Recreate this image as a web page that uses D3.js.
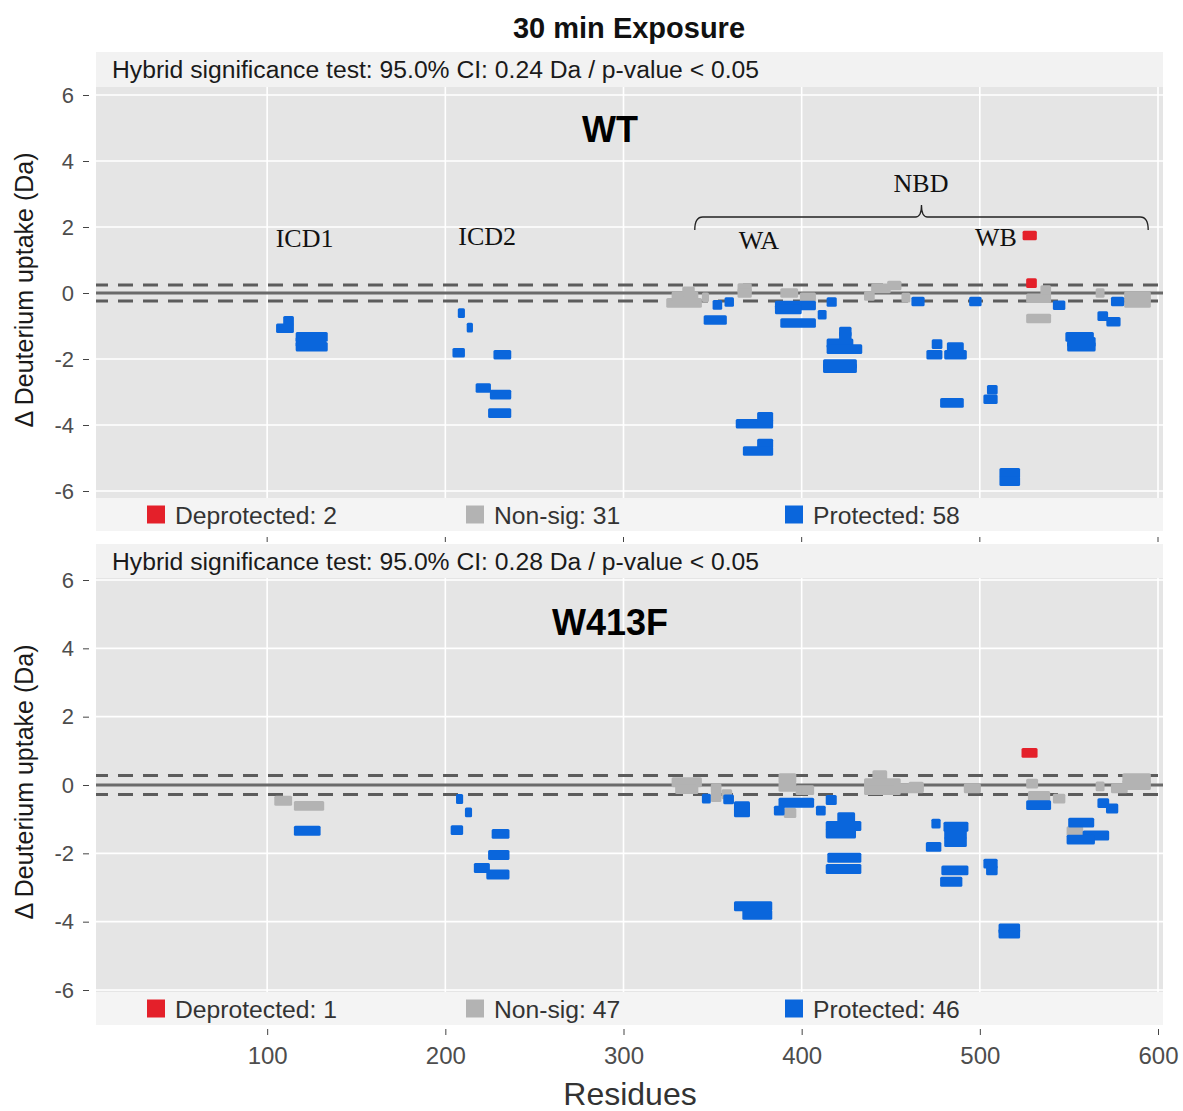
<!DOCTYPE html>
<html>
<head>
<meta charset="utf-8">
<script src="https://d3js.org/d3.v7.min.js"></script>
<style>
  body { margin: 0; background: #fff; }
  text { font-family: "Liberation Sans", Arial, sans-serif; }
</style>
</head>
<body>
<script>
// residue ticks and uptake ticks
const xTicks = [100, 200, 300, 400, 500, 600];
const yTicks = [-6, -4, -2, 0, 2, 4, 6];

// peptides as [start residue, end residue, delta uptake (Da)]
const wtDeprotected = [[524, 532, 1.74], [526, 532, 0.3]];
const wtNonsig = [
  [324, 344, -0.3], [327, 342, -0.1], [333, 340, 0.05], [344, 348, -0.13],
  [364, 372, 0.15], [364, 372, 0.0], [388, 398, 0.0], [399, 408, -0.13],
  [435, 441, -0.09], [439, 450, 0.14], [448, 456, 0.23], [456, 461, -0.14],
  [526, 540, -0.16], [534, 540, 0.09], [526, 540, -0.77],
  [565, 570, 0.0], [581, 596, -0.1], [581, 596, -0.3]
];
const wtProtected = [
  [109, 115, -0.84], [105, 115, -1.07], [116, 134, -1.33], [116, 133, -1.48], [116, 134, -1.63],
  [207, 211, -0.61], [212, 215.5, -1.05], [204, 211, -1.81], [227, 237, -1.87],
  [217, 225.6, -2.88], [225, 237, -3.08], [224, 237, -3.64],
  [350, 355.4, -0.36], [356.7, 362, -0.27], [345, 358, -0.82],
  [385, 408, -0.38], [385, 400, -0.5], [409, 414, -0.66], [414, 419.7, -0.27], [388, 408, -0.91],
  [421, 428, -1.17], [421, 428, -1.31], [414, 429, -1.52], [414, 434, -1.7],
  [412, 431, -2.15], [412, 431, -2.28],
  [363, 384, -3.96], [375, 384, -3.75], [375, 384, -4.56], [367, 384, -4.79],
  [461.6, 469, -0.26], [473, 479, -1.55], [470, 479, -1.87], [481.5, 491, -1.64],
  [480, 492.7, -1.87], [477.7, 491, -3.33],
  [494, 501, -0.26], [504, 510, -2.93], [502, 510, -3.22], [511, 522.6, -5.45], [511, 522.6, -5.7],
  [541, 548, -0.37], [548, 564, -1.33], [549, 565, -1.48], [549, 565, -1.63],
  [566, 572, -0.7], [571, 579, -0.87], [573.6, 581, -0.26]
];

const mutDeprotected = [[523.4, 532.4, 0.94]];
const mutNonsig = [
  [104, 114, -0.46], [115, 132, -0.61],
  [327, 344, 0.08], [329, 342, -0.12], [349, 355, -0.1], [349, 355, -0.35], [355, 361, -0.27],
  [387, 397, 0.2], [387, 397, -0.05], [396.6, 407, -0.15], [390, 397, -0.82],
  [439.7, 448, 0.29], [435, 455.6, 0.05], [435, 455.6, -0.15], [451.7, 468.5, -0.1], [460, 468.5, -0.05],
  [491, 500.6, -0.1],
  [526, 532.7, 0.04], [527, 539.5, -0.32], [541, 548, -0.4], [548.7, 558, -1.35],
  [565, 570, -0.04], [580, 596, 0.2], [580, 596, 0.0], [573.6, 583, -0.1]
];
const mutProtected = [
  [115, 130, -1.34],
  [206, 210, -0.41], [211, 215, -0.8], [203, 210, -1.32], [226, 236, -1.43],
  [224, 236, -2.05], [216, 225, -2.43], [223, 236, -2.62],
  [344, 349, -0.4], [356, 362, -0.42], [362, 371, -0.62], [362, 371, -0.8],
  [387, 407, -0.52], [384.4, 390.4, -0.75], [408, 413.5, -0.75], [413.5, 419.7, -0.44],
  [420, 430, -0.94], [413.5, 433.5, -1.2], [413.5, 430.5, -1.42], [414.4, 433.5, -2.13], [413.5, 433.5, -2.46],
  [362, 383.5, -3.55], [366.7, 383.5, -3.8],
  [472.8, 478, -1.13], [479.6, 493.6, -1.22], [480, 492.7, -1.43], [480, 492.7, -1.67],
  [469.7, 478.4, -1.81], [478.4, 493.6, -2.5], [477.7, 490.2, -2.83],
  [502, 510, -2.3], [503.5, 510, -2.5], [510.5, 522.6, -4.2], [510.5, 522.6, -4.35],
  [526, 540, -0.59], [566, 572.6, -0.53], [570.8, 577.7, -0.69],
  [549.6, 564.2, -1.1], [557.7, 572.6, -1.48], [548.7, 564.6, -1.6]
];

// legend counts and confidence limits per panel
const wtCounts = [2, 31, 58];
const mutCounts = [1, 47, 46];
const wtCI = 0.24;
const mutCI = 0.28;

// domain annotations on the WT panel
const annoLabels = ["ICD1", "ICD2", "NBD", "WA", "WB"];
const annoResidue = [121, 223.5, 467, 376, 509];
const annoValue = [1.4, 1.45, 3.06, 1.33, 1.42];
const braceRange = [340, 594.5];

const colors = { dep: "#e4202a", non: "#b3b3b3", pro: "#0a66dc" };
const peptideHeight = 0.29;

let svg = null;
let xScale = null;

window.onload = function() {
  svg = d3.select("body").append("svg")
    .attr("width", 1183)
    .attr("height", 1111);

  xScale = d3.scaleLinear().domain([0, 600]).range([89, 1158]);

  svg.append("text")
    .attr("x", 629)
    .attr("y", 38)
    .attr("text-anchor", "middle")
    .style("font-size", "29px")
    .style("font-weight", "bold")
    .style("fill", "#111")
    .text("30 min Exposure");

  let topY = drawPanel({
    headerTop: 52, plotTop: 87, plotBottom: 498, legendBottom: 531,
    yRange: [95, 491], ci: wtCI, name: "WT", nameAt: 4.58, counts: wtCounts,
    dep: wtDeprotected, non: wtNonsig, pro: wtProtected
  });
  drawAnnotations(topY);

  drawPanel({
    headerTop: 544, plotTop: 578, plotBottom: 992, legendBottom: 1025,
    yRange: [580, 990], ci: mutCI, name: "W413F", nameAt: 4.4, counts: mutCounts,
    dep: mutDeprotected, non: mutNonsig, pro: mutProtected
  });

  // top panel's bare tick marks between the two panels
  svg.selectAll(".midtick")
    .data(xTicks)
    .enter()
    .append("line")
    .attr("x1", (d) => xScale(d))
    .attr("x2", (d) => xScale(d))
    .attr("y1", 537)
    .attr("y2", 542)
    .attr("stroke", "#444")
    .attr("stroke-width", 1);

  // bottom x axis
  let xAxis = d3.axisBottom(xScale)
    .tickValues(xTicks)
    .tickSize(6)
    .tickPadding(12);
  let gx = svg.append("g")
    .attr("transform", "translate(0, 1029)")
    .call(xAxis);
  gx.select(".domain").remove();
  gx.selectAll("line").attr("stroke", "#444");
  gx.selectAll("text")
    .style("font-size", "24px")
    .style("fill", "#4d4d4d")
    .style("font-family", "'Liberation Sans', Arial, sans-serif");

  svg.append("text")
    .attr("x", 630)
    .attr("y", 1105)
    .attr("text-anchor", "middle")
    .style("font-size", "32px")
    .style("fill", "#333")
    .text("Residues");
};

function drawPanel(p) {
  let yScale = d3.scaleLinear().domain([6, -6]).range(p.yRange);
  let left = 96, right = 1163;

  // header strip with significance test text
  svg.append("rect")
    .attr("x", left).attr("y", p.headerTop)
    .attr("width", right - left).attr("height", p.plotTop - p.headerTop)
    .style("fill", "#f2f2f2");
  svg.append("text")
    .attr("x", 112)
    .attr("y", (p.headerTop + p.plotTop) / 2 + 8.5)
    .style("font-size", "24.7px")
    .style("fill", "#1a1a1a")
    .text("Hybrid significance test: 95.0% CI: " + p.ci.toFixed(2) + " Da / p-value < 0.05");

  // gray plot panel
  svg.append("rect")
    .attr("x", left).attr("y", p.plotTop)
    .attr("width", right - left).attr("height", p.plotBottom - p.plotTop)
    .style("fill", "#e5e5e5");

  // grid
  svg.selectAll(null)
    .data(yTicks)
    .enter()
    .append("line")
    .attr("x1", left).attr("x2", right)
    .attr("y1", (d) => yScale(d)).attr("y2", (d) => yScale(d))
    .attr("stroke", "#fff").attr("stroke-width", 1.6);
  svg.selectAll(null)
    .data(xTicks)
    .enter()
    .append("line")
    .attr("x1", (d) => xScale(d)).attr("x2", (d) => xScale(d))
    .attr("y1", p.plotTop).attr("y2", p.plotBottom)
    .attr("stroke", "#fff").attr("stroke-width", 1.6);

  // zero line and CI dashes
  svg.append("line")
    .attr("x1", left).attr("x2", right)
    .attr("y1", yScale(0)).attr("y2", yScale(0))
    .attr("stroke", "#6a6a6a").attr("stroke-width", 3);
  [p.ci, -p.ci].forEach(function(c) {
    svg.append("line")
      .attr("x1", left).attr("x2", right)
      .attr("y1", yScale(c)).attr("y2", yScale(c))
      .attr("stroke", "#5c5c5c").attr("stroke-width", 3)
      .style("stroke-dasharray", "15, 10")
      .style("stroke-dashoffset", 3);
  });

  // peptides
  let groups = [[p.non, colors.non], [p.pro, colors.pro], [p.dep, colors.dep]];
  groups.forEach(function(g) {
    svg.append("g").selectAll("rect")
      .data(g[0])
      .enter()
      .append("rect")
      .attr("x", (d) => xScale(d[0]))
      .attr("width", (d) => xScale(d[1]) - xScale(d[0]))
      .attr("y", (d) => yScale(d[2] + peptideHeight / 2))
      .attr("height", (d) => yScale(d[2] - peptideHeight / 2) - yScale(d[2] + peptideHeight / 2))
      .attr("rx", 1.5)
      .style("fill", g[1]);
  });

  // panel label
  svg.append("text")
    .attr("x", 610)
    .attr("y", yScale(p.nameAt))
    .attr("text-anchor", "middle")
    .style("font-size", "36px")
    .style("font-weight", "bold")
    .style("fill", "#000")
    .text(p.name);

  // legend strip
  svg.append("rect")
    .attr("x", left).attr("y", p.plotBottom)
    .attr("width", right - left).attr("height", p.legendBottom - p.plotBottom)
    .style("fill", "#f4f4f4");
  let mid = (p.plotBottom + p.legendBottom) / 2;
  let legendX = [147, 466, 785];
  let legendNames = ["Deprotected: ", "Non-sig: ", "Protected: "];
  let legendColors = [colors.dep, colors.non, colors.pro];
  for (let i = 0; i < 3; i++) {
    svg.append("rect")
      .attr("x", legendX[i]).attr("y", mid - 9)
      .attr("width", 18).attr("height", 18)
      .style("fill", legendColors[i]);
    svg.append("text")
      .attr("x", legendX[i] + 28)
      .attr("y", mid + 9)
      .style("font-size", "24.7px")
      .style("fill", "#333")
      .text(legendNames[i] + p.counts[i]);
  }

  // y axis
  let yAxis = d3.axisLeft(yScale)
    .tickValues(yTicks)
    .tickFormat((d) => String(d))
    .tickSize(6)
    .tickPadding(9);
  let gy = svg.append("g")
    .attr("transform", "translate(89, 0)")
    .call(yAxis);
  gy.select(".domain").remove();
  gy.selectAll("line").attr("stroke", "#444");
  gy.selectAll("text")
    .style("font-size", "22px")
    .style("fill", "#4d4d4d")
    .style("font-family", "'Liberation Sans', Arial, sans-serif");

  svg.append("text")
    .attr("transform", "translate(33, " + ((p.yRange[0] + p.yRange[1]) / 2 - 3) + ")rotate(-90)")
    .attr("text-anchor", "middle")
    .style("font-size", "25px")
    .style("fill", "#1a1a1a")
    .text("\u0394 Deuterium uptake (Da)");

  return yScale;
}

function drawAnnotations(yScale) {
  svg.selectAll(".anno")
    .data(annoLabels)
    .enter()
    .append("text")
    .attr("x", (d, i) => xScale(annoResidue[i]))
    .attr("y", (d, i) => yScale(annoValue[i]))
    .attr("text-anchor", "middle")
    .style("font-family", "'Liberation Serif', 'Times New Roman', serif")
    .style("font-size", "26px")
    .style("fill", "#111")
    .text((d) => d);

  let x0 = xScale(braceRange[0]);
  let x1 = xScale(braceRange[1]);
  let xc = (x0 + x1) / 2;
  let yb = 217;
  let path = "M" + x0 + "," + (yb + 13) +
    " Q" + x0 + "," + yb + " " + (x0 + 8) + "," + yb +
    " L" + (xc - 6) + "," + yb +
    " Q" + xc + "," + yb + " " + xc + "," + (yb - 12) +
    " Q" + xc + "," + yb + " " + (xc + 6) + "," + yb +
    " L" + (x1 - 8) + "," + yb +
    " Q" + x1 + "," + yb + " " + x1 + "," + (yb + 13);
  svg.append("path")
    .attr("d", path)
    .attr("fill", "none")
    .attr("stroke", "#222")
    .attr("stroke-width", 1.3);
}
</script>
</body>
</html>
